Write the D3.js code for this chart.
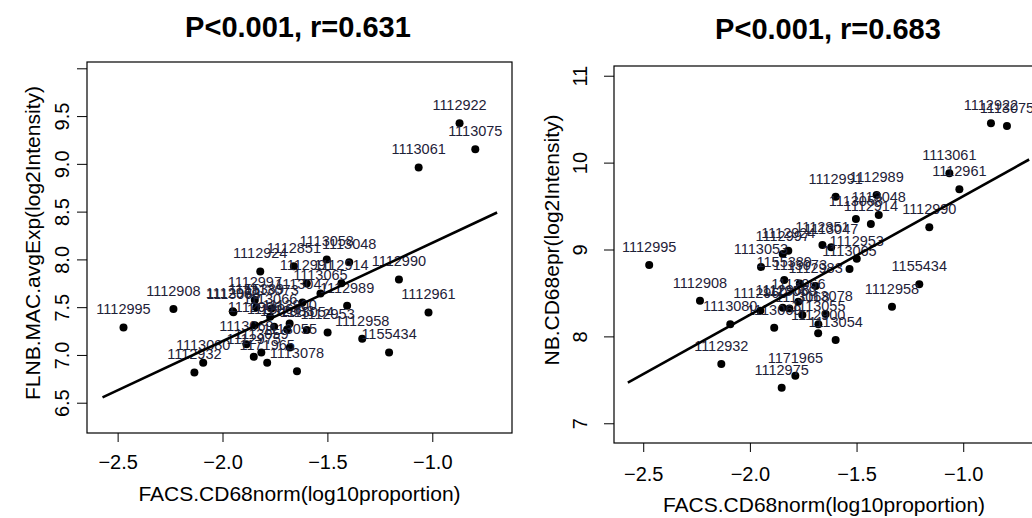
<!DOCTYPE html>
<html>
<head>
<meta charset="utf-8">
<script src="https://cdn.jsdelivr.net/npm/d3@7"></script>
<style>
  body { margin: 0; background: #ffffff; }
  svg { display: block; }
  text { font-family: "Liberation Sans", Arial, Helvetica, sans-serif; }
</style>
</head>
<body>
<svg id="chart" width="1032" height="518"></svg>
<script>
// Sample identifiers and measurements (one entry per sample)
const sampleIds = [
  "1112995","1112908","1112932","1113080","1112960","1113053","1113069","1112997",
  "1112966","1112975","1155389","1112924","1113059","1171965","1113066","1113073",
  "1113068","1112983","1113055","1112900","1112851","1113078","1113047","1112991",
  "1113054","1113065","1113058","1112953","1112914","1112989","1113048","1112958",
  "1155434","1112990","1113061","1112961","1112922","1113075"
];
// FACS.CD68norm (log10 proportion), shared x for both panels
const facsCD68 = [
  -2.472,-2.234,-2.134,-2.092,-1.951,-1.948,-1.886,-1.846,
  -1.846,-1.851,-1.839,-1.820,-1.815,-1.787,-1.773,-1.766,
  -1.754,-1.692,-1.679,-1.680,-1.660,-1.645,-1.619,-1.598,
  -1.598,-1.533,-1.503,-1.499,-1.433,-1.406,-1.396,-1.334,
  -1.206,-1.159,-1.065,-1.018,-0.870,-0.795
];
// FLNB.MAC.avgExp (log2 intensity)
const flnbMacExp = [
  7.288,7.480,6.817,6.917,7.456,7.448,7.113,7.574,
  7.312,6.980,7.500,7.874,7.026,6.917,7.400,7.487,
  7.294,7.267,7.079,7.330,7.927,6.830,7.550,7.749,
  7.260,7.644,8.000,7.236,7.750,7.514,7.969,7.169,
  7.026,7.790,8.963,7.445,9.424,9.152
];
// NB.CD68epr (log2 intensity)
const nbCD68epr = [
  8.822,8.411,7.682,8.139,8.296,8.800,8.100,8.948,
  8.330,7.410,8.649,8.986,8.320,7.548,8.400,8.610,
  8.246,8.580,8.140,8.036,9.052,8.258,9.025,9.608,
  7.958,8.775,9.351,8.894,9.293,9.627,9.397,8.342,
  8.600,9.255,9.877,9.693,10.452,10.421
];

// Axis ticks
const xTicks = [-2.5, -2.0, -1.5, -1.0];
const leftYTicks = [6.5, 7.0, 7.5, 8.0, 8.5, 9.0, 9.5, 10.0];
const leftYTickLabels = ["6.5", "7.0", "7.5", "8.0", "8.5", "9.0", "9.5", ""];
const rightYTicks = [7, 8, 9, 10, 11];
const rightYTickLabels = ["7", "8", "9", "10", "11"];

// Linear fits: [intercept, slope] and the x span they are drawn over
const leftFit = [9.202, 1.029];
const rightFit = [10.979, 1.365];
const fitSpan = [-2.572, -0.691];

// Panel titles and axis titles
const panelTitles = ["P<0.001, r=0.631", "P<0.001, r=0.683"];
const xTitle = "FACS.CD68norm(log10proportion)";
const yTitles = ["FLNB.MAC.avgExp(log2Intensity)", "NB.CD68epr(log2Intensity)"];

const svg = d3.select("#chart");

function drawPanel(cfg) {
  const { x0, x1, y0, y1, xDom, yDom, yVals, yTicks, yTickLabels, fit, title } = cfg;
  const x = d3.scaleLinear().domain(xDom).range([x0, x1]);
  const y = d3.scaleLinear().domain(yDom).range([y1, y0]);
  const g = svg.append("g");

  // Title
  g.append("text")
    .attr("x", cfg.titleX).attr("y", cfg.titleY)
    .attr("text-anchor", "middle")
    .attr("font-size", 29).attr("font-weight", "bold")
    .attr("fill", "#000")
    .text(title);

  // Bottom axis
  const xAxis = g.append("g")
    .attr("transform", `translate(0,${y1})`)
    .call(d3.axisBottom(x).tickValues(xTicks).tickSize(9).tickPadding(6)
      .tickFormat(d3.format(".1f")));
  xAxis.select(".domain").remove();
  xAxis.selectAll(".tick line").attr("stroke", "#000");
  xAxis.selectAll(".tick text")
    .attr("font-size", 20).attr("fill", "#000")
    .attr("font-family", "Liberation Sans, Arial, sans-serif")
    .attr("dy", null).attr("y", cfg.xLabelDy);

  // Left axis with rotated labels
  const yAxis = g.append("g")
    .attr("transform", `translate(${x0},0)`)
    .call(d3.axisLeft(y).tickValues(yTicks).tickSize(10)
      .tickFormat((d, i) => yTickLabels[i]));
  yAxis.select(".domain").remove();
  yAxis.selectAll(".tick line").attr("stroke", "#000");
  yAxis.selectAll(".tick text")
    .attr("font-size", 20).attr("fill", "#000")
    .attr("font-family", "Liberation Sans, Arial, sans-serif")
    .attr("text-anchor", "middle")
    .attr("transform", "rotate(-90)")
    .attr("x", 0).attr("dy", null)
    .attr("y", cfg.yLabelDy);

  // Axis titles
  g.append("text")
    .attr("x", (x0 + Math.min(x1, 1032)) / 2 + cfg.xTitleShift).attr("y", cfg.xTitleY)
    .attr("text-anchor", "middle").attr("font-size", 21).attr("fill", "#000")
    .text(xTitle);
  g.append("text")
    .attr("transform", `translate(${cfg.yTitleX},${cfg.yTitleY}) rotate(-90)`)
    .attr("text-anchor", "middle").attr("font-size", 21).attr("fill", "#000")
    .text(cfg.yTitle);

  // Plot box
  g.append("rect")
    .attr("x", x0).attr("y", y0)
    .attr("width", x1 - x0).attr("height", y1 - y0)
    .attr("fill", "none").attr("stroke", "#000").attr("stroke-width", 1.2);

  const data = sampleIds.map((id, i) => ({ id, xv: facsCD68[i], yv: yVals[i] }));

  // Points
  g.append("g").selectAll("circle").data(data).join("circle")
    .attr("cx", d => x(d.xv)).attr("cy", d => y(d.yv))
    .attr("r", 4).attr("fill", "#000");

  // Sample labels above points
  g.append("g").selectAll("text").data(data).join("text")
    .attr("x", d => x(d.xv)).attr("y", d => y(d.yv) - 13)
    .attr("text-anchor", "middle").attr("font-size", 14.5)
    .attr("fill", "#1e2138")
    .text(d => d.id);

  // Fitted line
  const line = d3.line().x(d => x(d)).y(d => y(fit[0] + fit[1] * d));
  g.append("path").datum(fitSpan)
    .attr("d", line).attr("fill", "none")
    .attr("stroke", "#000").attr("stroke-width", 2.6);
}

drawPanel({
  x0: 87, x1: 512, y0: 62, y1: 433,
  xDom: [-2.646, -0.620], yDom: [6.183, 10.066],
  yVals: flnbMacExp, yTicks: leftYTicks, yTickLabels: leftYTickLabels,
  fit: leftFit, title: panelTitles[0], titleX: 298, titleY: 37,
  xLabelDy: 36, yLabelDy: -18, xTitleY: 501, xTitleShift: 0,
  yTitleX: 40, yTitleY: 243, yTitle: yTitles[0]
});

drawPanel({
  x0: 614, x1: 1046, y0: 66, y1: 443,
  xDom: [-2.637, -0.612], yDom: [6.773, 11.112],
  yVals: nbCD68epr, yTicks: rightYTicks, yTickLabels: rightYTickLabels,
  fit: rightFit, title: panelTitles[1], titleX: 828, titleY: 39,
  xLabelDy: 38, yLabelDy: -27, xTitleY: 512, xTitleShift: 1,
  yTitleX: 559, yTitleY: 240, yTitle: yTitles[1]
});
</script>
</body>
</html>
